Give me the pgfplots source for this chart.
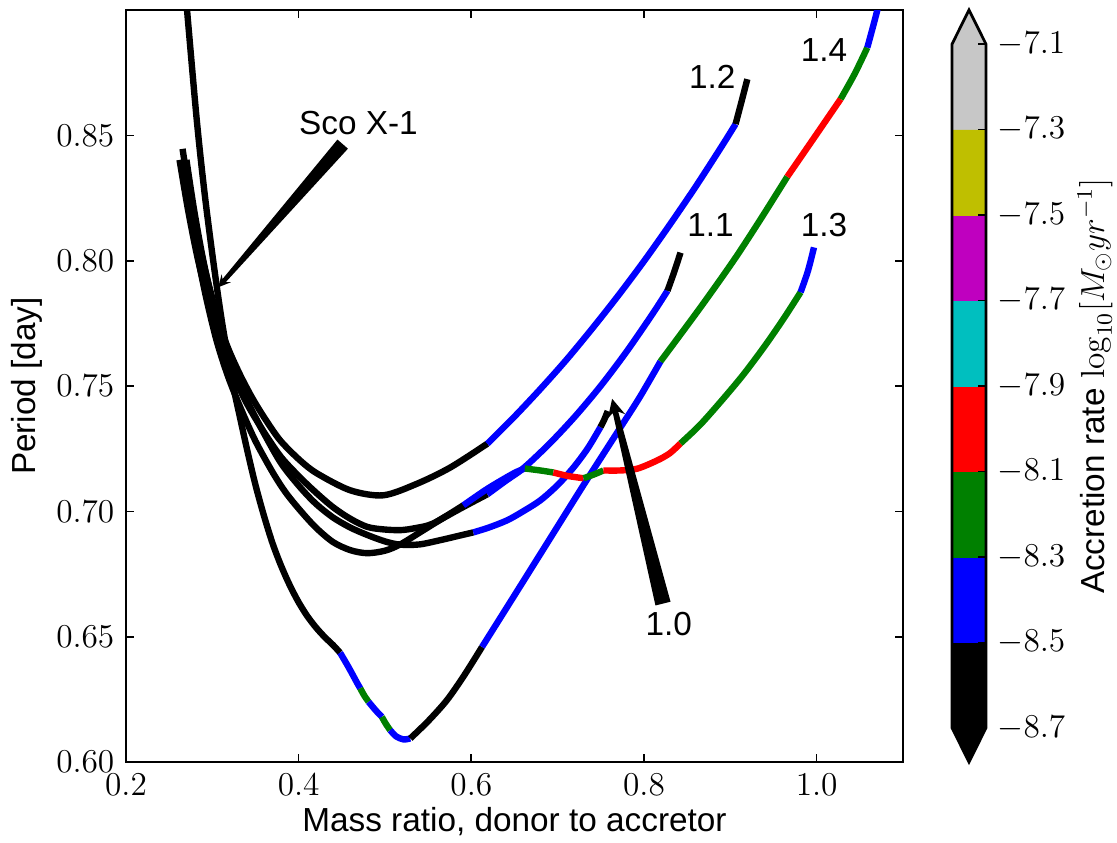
\documentclass[border=0pt,12pt]{standalone}
\usepackage[no-math]{fontspec}
\setmainfont{Liberation Sans}
\usepackage{pgfplots}
\pgfplotsset{compat=1.18}
\usetikzlibrary{calc}

\definecolor{mgreen}{rgb}{0,0.5,0}
\definecolor{mcyan}{rgb}{0,0.75,0.75}
\definecolor{mmag}{rgb}{0.75,0,0.75}
\definecolor{myel}{rgb}{0.75,0.75,0}
\definecolor{mgray}{rgb}{0.78,0.78,0.78}

\pgfplotsset{trk/.style={line width=2.3pt, line cap=butt, line join=round, smooth}}

\begin{document}
\begin{tikzpicture}
\useasboundingbox (0,0) rectangle (402.12pt,303.12pt);

% ---------------- evolutionary tracks ----------------
\begin{axis}[
  at={(45.36pt,28.8pt)}, anchor=south west,
  scale only axis, width=279.72pt, height=270.72pt,
  xmin=0.2, xmax=1.1, ymin=0.6, ymax=0.9,
  xtick={0.2,0.4,0.6,0.8,1.0},
  ytick={0.6,0.65,0.7,0.75,0.8,0.85},
  xticklabel style={/pgf/number format/fixed, /pgf/number format/fixed zerofill, /pgf/number format/precision=1},
  yticklabel style={/pgf/number format/fixed, /pgf/number format/fixed zerofill, /pgf/number format/precision=2},
  tick align=inside, major tick length=3pt,
  tick style={black, line width=0.6pt},
  axis line style={line width=1pt},
  no marks,
]
% 1.4
\addplot[trk, black] coordinates {(0.2695,0.906) (0.2707,0.900) (0.282,0.856) (0.291,0.827) (0.301,0.800) (0.311,0.776) (0.3229,0.7522) (0.332,0.7375) (0.341,0.7235) (0.350,0.7105) (0.360,0.698) (0.370,0.687) (0.380,0.678) (0.390,0.6703) (0.400,0.6637) (0.410,0.6582) (0.420,0.6537) (0.430,0.6499) (0.440,0.6466) (0.448,0.6436)};
\addplot[trk, blue] coordinates {(0.448,0.6436) (0.458,0.6377) (0.4678,0.6315) (0.4713,0.6294)};
\addplot[trk, mgreen] coordinates {(0.4713,0.6294) (0.476,0.6265) (0.481,0.624)};
\addplot[trk, blue] coordinates {(0.481,0.624) (0.489,0.6207) (0.4964,0.618)};
\addplot[trk, mgreen] coordinates {(0.4964,0.618) (0.501,0.6152) (0.506,0.6127)};
\addplot[trk, blue] coordinates {(0.506,0.6127) (0.513,0.6102) (0.5215,0.609) (0.5293,0.6094)};
\addplot[trk, black] coordinates {(0.5293,0.6094) (0.55,0.6163) (0.5718,0.6247) (0.592,0.6347) (0.6124,0.6459)};
\addplot[trk, blue] coordinates {(0.6124,0.6459) (0.65,0.6665) (0.69,0.6885) (0.73,0.7105) (0.77,0.732) (0.795,0.7455) (0.8191,0.7598)};
\addplot[trk, mgreen] coordinates {(0.8191,0.7598) (0.8655,0.7814) (0.9041,0.8002) (0.935,0.8165) (0.966,0.8335)};
\addplot[trk, red] coordinates {(0.966,0.8335) (0.997,0.849) (1.0278,0.8645)};
\addplot[trk, mgreen] coordinates {(1.0278,0.8645) (1.044,0.8745) (1.0587,0.885)};
\addplot[trk, blue] coordinates {(1.0587,0.885) (1.0703,0.900) (1.073,0.906)};
% 1.2
\addplot[trk, black] coordinates {(0.2655,0.8446) (0.276,0.822) (0.287,0.803) (0.300,0.785) (0.315,0.768) (0.330,0.756) (0.345,0.746) (0.360,0.7375) (0.3786,0.7283) (0.4017,0.7203) (0.4214,0.7151) (0.4597,0.7084) (0.498,0.7064) (0.537,0.711) (0.5757,0.7175) (0.6186,0.727)};
\addplot[trk, blue] coordinates {(0.6186,0.727) (0.65,0.7378) (0.68,0.7488) (0.71,0.7604) (0.74,0.7729) (0.77,0.786) (0.80,0.7998) (0.83,0.8144) (0.86,0.8296) (0.89,0.8456) (0.9061,0.8545)};
\addplot[trk, black] coordinates {(0.9061,0.8545) (0.913,0.8635) (0.9197,0.8724)};
% 1.0
\addplot[trk, black] coordinates {(0.270,0.8402) (0.279,0.820) (0.289,0.801) (0.300,0.784) (0.313,0.768) (0.327,0.755) (0.342,0.743) (0.360,0.731) (0.380,0.719) (0.4017,0.7096) (0.420,0.703) (0.440,0.6975) (0.460,0.6935) (0.480,0.6905) (0.500,0.688) (0.5177,0.6867) (0.540,0.6868) (0.564,0.6885) (0.585,0.6902) (0.6023,0.6916)};
\addplot[trk, blue] coordinates {(0.6023,0.6916) (0.620,0.6935) (0.6414,0.6964) (0.660,0.700) (0.680,0.7044) (0.700,0.7105) (0.7186,0.7176) (0.735,0.7252) (0.7496,0.7336)};
\addplot[trk, black] coordinates {(0.7496,0.7336) (0.754,0.7366) (0.758,0.740)};
% 1.1
\addplot[trk, black] coordinates {(0.266,0.8402) (0.274,0.821) (0.283,0.802) (0.293,0.785) (0.305,0.768) (0.318,0.754) (0.333,0.741) (0.350,0.728) (0.370,0.7155) (0.385,0.7075) (0.4017,0.7004) (0.420,0.6935) (0.440,0.6877) (0.460,0.6845) (0.4794,0.6833) (0.500,0.6843) (0.5177,0.6868) (0.540,0.6915) (0.564,0.6966) (0.590,0.7016) (0.6186,0.7068)};
\addplot[trk, blue] coordinates {(0.6186,0.7068) (0.640,0.7122) (0.660,0.7171) (0.690,0.7268) (0.720,0.7378) (0.750,0.7501) (0.780,0.7638) (0.810,0.7788) (0.8272,0.788)};
\addplot[trk, black] coordinates {(0.8272,0.788) (0.835,0.7955) (0.8423,0.8032)};
% 1.3
\addplot[trk, black] coordinates {(0.262,0.8402) (0.272,0.820) (0.283,0.801) (0.296,0.783) (0.310,0.767) (0.325,0.754) (0.340,0.743) (0.360,0.7315) (0.380,0.7215) (0.4017,0.7135) (0.420,0.7075) (0.440,0.7016) (0.460,0.697) (0.4794,0.6938) (0.498,0.6928) (0.5177,0.6925) (0.535,0.6933) (0.556,0.6952) (0.5907,0.7024)};
\addplot[trk, blue] coordinates {(0.5907,0.7024) (0.6186,0.709) (0.6487,0.7151) (0.662,0.7171)};
\addplot[trk, mgreen] coordinates {(0.662,0.7171) (0.680,0.7163) (0.695,0.7155)};
\addplot[trk, red] coordinates {(0.695,0.7155) (0.712,0.7141) (0.730,0.7132)};
\addplot[trk, mgreen] coordinates {(0.730,0.7132) (0.742,0.7147) (0.753,0.7163)};
\addplot[trk, red] coordinates {(0.753,0.7163) (0.772,0.7163) (0.792,0.717) (0.8153,0.7203) (0.830,0.7232) (0.8423,0.7271)};
\addplot[trk, mgreen] coordinates {(0.8423,0.7271) (0.865,0.7345) (0.890,0.7442) (0.915,0.7545) (0.940,0.766) (0.962,0.777) (0.9814,0.7874)};
\addplot[trk, blue] coordinates {(0.9814,0.7874) (0.990,0.796) (0.9969,0.8053)};

% annotations
\node at (axis cs:0.8791,0.8735) {1.2};
\node at (axis cs:1.0085,0.884) {1.4};
\node at (axis cs:0.8771,0.8143) {1.1};
\node at (axis cs:1.0085,0.8143) {1.3};
\node at (axis cs:0.8288,0.6549) {1.0};
\node at (axis cs:0.4693,0.8548) {Sco X-1};
\coordinate (scoT) at (axis cs:0.451,0.8465);
\coordinate (scoP) at (axis cs:0.307,0.7894);
\coordinate (oneT) at (axis cs:0.822,0.6632);
\coordinate (oneP) at (axis cs:0.7631,0.7449);
\end{axis}

% ---------------- colour bar ----------------
\begin{axis}[
  at={(342.72pt,28.8pt)}, anchor=south west,
  scale only axis, width=12.24pt, height=270.72pt,
  xmin=0, xmax=1, ymin=-8.78, ymax=-7.02,
  axis line style={draw=none},
  xtick=\empty,
  ytick={-8.7,-8.5,-8.3,-8.1,-7.9,-7.7,-7.5,-7.3,-7.1},
  ytick pos=right, yticklabel pos=right,
  tick align=inside, major tick length=3pt,
  tick style={black, line width=0.6pt},
  yticklabel style={/pgf/number format/fixed, /pgf/number format/fixed zerofill, /pgf/number format/precision=1},
  axis on top, clip=false, no marks,
]
\addplot[fill=black, draw=black, line width=0.2pt] coordinates {(0.5,-8.78) (1,-8.7) (1,-8.5) (0,-8.5) (0,-8.7) (0.5,-8.78)};
\addplot[fill=blue, draw=blue, line width=0.2pt] coordinates {(0,-8.5) (1,-8.5) (1,-8.3) (0,-8.3) (0,-8.5)};
\addplot[fill=mgreen, draw=mgreen, line width=0.2pt] coordinates {(0,-8.3) (1,-8.3) (1,-8.1) (0,-8.1) (0,-8.3)};
\addplot[fill=red, draw=red, line width=0.2pt] coordinates {(0,-8.1) (1,-8.1) (1,-7.9) (0,-7.9) (0,-8.1)};
\addplot[fill=mcyan, draw=mcyan, line width=0.2pt] coordinates {(0,-7.9) (1,-7.9) (1,-7.7) (0,-7.7) (0,-7.9)};
\addplot[fill=mmag, draw=mmag, line width=0.2pt] coordinates {(0,-7.7) (1,-7.7) (1,-7.5) (0,-7.5) (0,-7.7)};
\addplot[fill=myel, draw=myel, line width=0.2pt] coordinates {(0,-7.5) (1,-7.5) (1,-7.3) (0,-7.3) (0,-7.5)};
\addplot[fill=mgray, draw=mgray, line width=0.2pt] coordinates {(0,-7.3) (1,-7.3) (1,-7.1) (0.5,-7.02) (0,-7.1) (0,-7.3)};
\addplot[draw=black, line width=1pt, line join=miter] coordinates {(0,-8.7) (0,-7.1) (0.5,-7.02) (1,-7.1) (1,-8.7) (0.5,-8.78) (0,-8.7) (0,-8.6)};
\end{axis}

% arrows of the annotations
\fill[black] ($(scoT)!2.5pt!90:(scoP)$) -- ($(scoP)!3.2pt!(scoT)!0.8pt!-90:(scoT)$) -- ($(scoP)!4.3pt!(scoT)!2.2pt!-90:(scoT)$) -- (scoP)
  -- ($(scoP)!4.3pt!(scoT)!2.2pt!90:(scoT)$) -- ($(scoP)!3.2pt!(scoT)!0.8pt!90:(scoT)$) -- ($(scoT)!2.5pt!-90:(scoP)$) -- cycle;
\fill[black] ($(oneT)!2.8pt!90:(oneP)$) -- ($(oneP)!5pt!(oneT)!1pt!-90:(oneT)$) -- ($(oneP)!6.5pt!(oneT)!3.2pt!-90:(oneT)$) -- (oneP)
  -- ($(oneP)!6.5pt!(oneT)!3.2pt!90:(oneT)$) -- ($(oneP)!5pt!(oneT)!1pt!90:(oneT)$) -- ($(oneT)!2.8pt!-90:(oneP)$) -- cycle;

% axis titles
\node[anchor=base] at (185.22pt,3.96pt) {Mass ratio, donor to accretor};
\node[anchor=base, rotate=90] at (12.6pt,164.16pt) {Period [day]};
\node[anchor=base, rotate=90] at (397.44pt,164.16pt) {Accretion rate $\log_{10}[M_\odot yr^{-1}]$};
\end{tikzpicture}
\end{document}
